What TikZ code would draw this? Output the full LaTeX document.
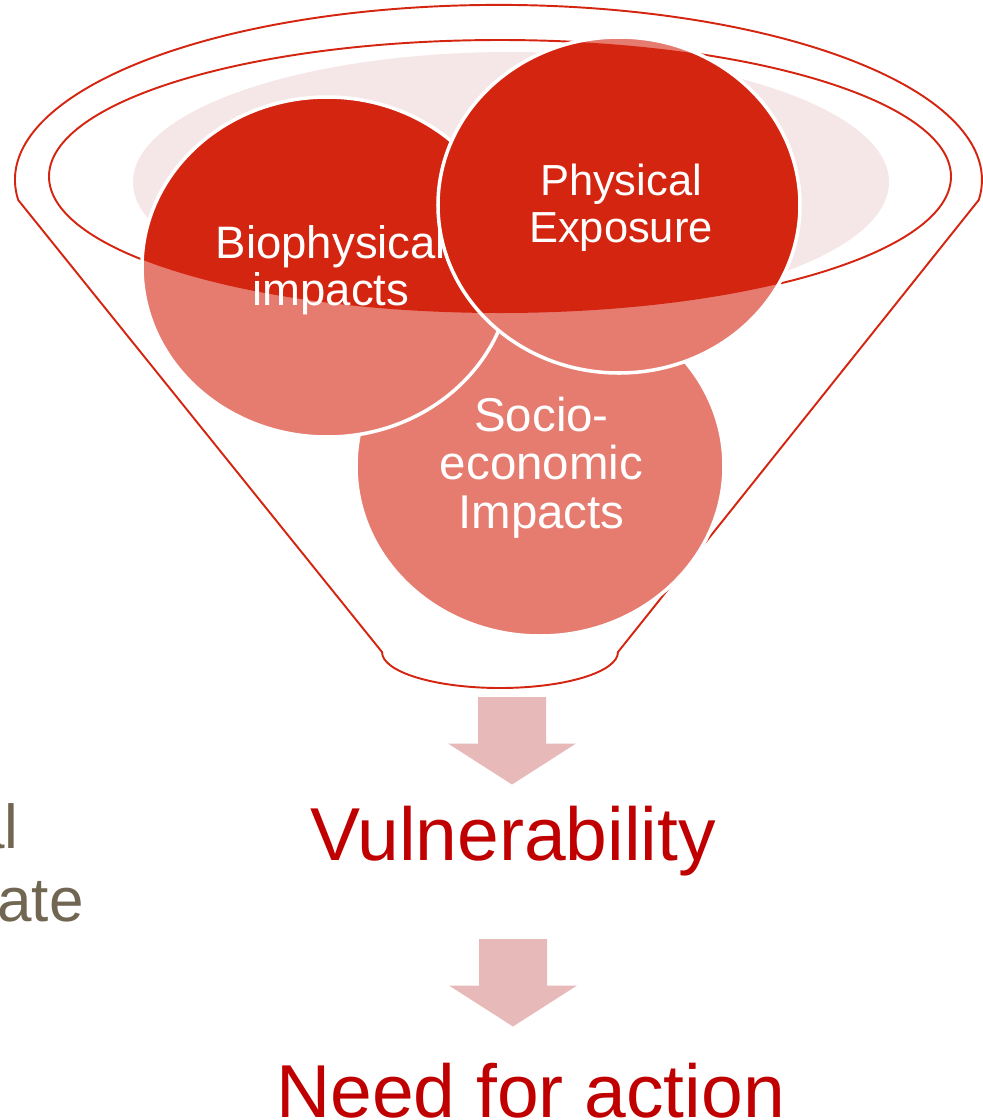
\documentclass[tikz,border=0pt]{standalone}
\usepackage{fontspec}
\setmainfont{Liberation Sans}
\usepackage{tikz}

\definecolor{rimred}{RGB}{212,37,17}
\definecolor{bubblelight}{RGB}{230,124,112}
\definecolor{bubbledark}{RGB}{212,37,17}
\definecolor{rimpink}{RGB}{245,230,231}
\definecolor{flowpink}{RGB}{232,185,185}
\definecolor{headred}{RGB}{192,0,0}
\definecolor{sidegray}{RGB}{113,102,82}

\tikzset{
  rim/.style={draw=rimred, line width=1.1pt, line join=round},
  bubbleedge/.style={draw=white, line width=2pt},
  bubbletext/.style={text=white, align=center, inner sep=0pt},
  bigtext/.style={text=headred, font=\fontsize{42.7}{46}\selectfont, inner sep=0pt, anchor=base},
  sidetext/.style={text=sidegray, font=\fontsize{35.3}{41.5}\selectfont, inner sep=0pt, anchor=base east},
}

\begin{document}
\begin{tikzpicture}[x=0.02cm,y=-0.02cm]
        \useasboundingbox (0,0) rectangle (983,1120);
        % --- Funnel ---
        \fill[rimpink] (511,182) ellipse [x radius=378, y radius=130];
        \draw[rim] (500,176.5) ellipse [x radius=451, y radius=136.5];
        \draw[rim] (18.2,200) arc [start angle=173.4, end angle=366.6, x radius=483.5, y radius=175]
            -- (618,652) arc [start angle=0, end angle=180, x radius=118, y radius=36] -- cycle;
        % --- Socio-economic ---
        \fill[bubblelight] (540,466) ellipse [x radius=184, y radius=170];
        \begin{scope}
            \clip (500,176.5) ellipse [x radius=451, y radius=136.5];
            \fill[bubbledark] (540,466) ellipse [x radius=184, y radius=170];
        \end{scope}
        \draw[bubbleedge] (540,466) ellipse [x radius=184, y radius=170];
        \node[bubbletext, font=\fontsize{27}{27.5}\selectfont] (socio) at (541.5,467.7) {Socio-\\economic\\Impacts};
        % --- Biophysical ---
        \fill[bubblelight] (327,267) ellipse [x radius=185, y radius=170];
        \begin{scope}
            \clip (500,176.5) ellipse [x radius=451, y radius=136.5];
            \fill[bubbledark] (327,267) ellipse [x radius=185, y radius=170];
        \end{scope}
        \draw[bubbleedge] (327,267) ellipse [x radius=185, y radius=170];
        \node[bubbletext, font=\fontsize{25.9}{26.7}\selectfont] (bio) at (331,269.9) {Biophysical\\impacts};
        % --- Physical exposure ---
        \fill[bubblelight] (619,205) ellipse [x radius=181, y radius=168];
        \begin{scope}
            \clip (500,176.5) ellipse [x radius=451, y radius=136.5];
            \fill[bubbledark] (619,205) ellipse [x radius=181, y radius=168];
        \end{scope}
        \draw[bubbleedge] (619,205) ellipse [x radius=181, y radius=168];
        \node[bubbletext, font=\fontsize{24.75}{26.7}\selectfont] (phys) at (621,207.4) {Physical\\Exposure};
        % --- Arrows ---
        \foreach \top/\mid in {697/512, 939/513}
            \fill[flowpink] (\mid-34,\top) -- ++(68,0) -- ++(0,46.5) -- ++(30,0) -- (\mid,\top+87.5)
                -- (\mid-64,\top+46.5) -- ++(30,0) -- cycle;
        % --- Outcomes ---
        \node[bigtext] (vuln) at (513,860) {Vulnerability};
        \node[bigtext] (action) at (530.6,1117) {Need for action};
        \node[sidetext] (sidetop) at (19,848) {al};
        \node[sidetext] (sidebottom) at (84,921) {ate};
\end{tikzpicture}
\end{document}
